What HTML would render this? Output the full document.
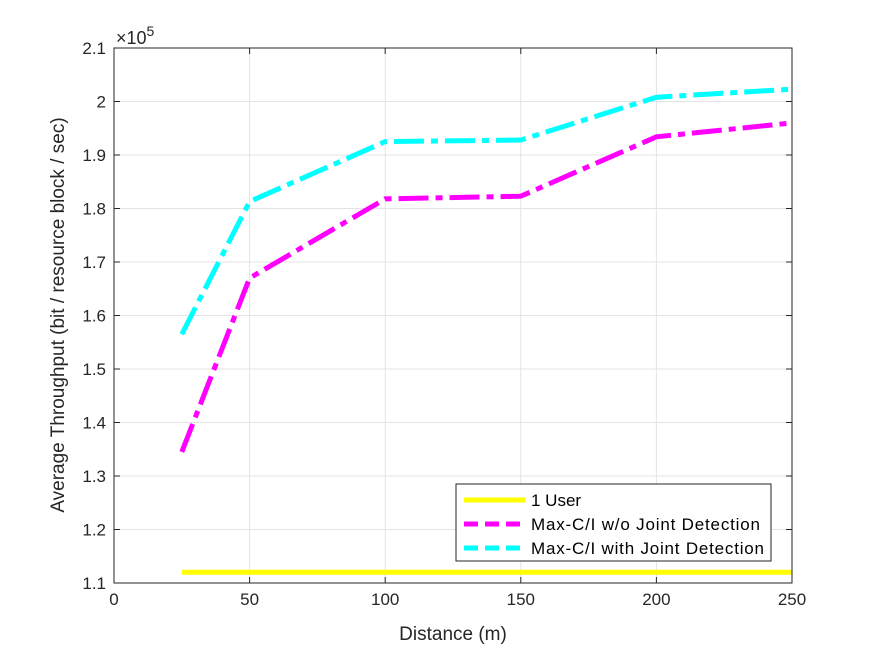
<!DOCTYPE html>
<html><head><meta charset="utf-8"><style>
body{margin:0;background:#fff;}
svg{display:block;font-family:"Liberation Sans",sans-serif;}
</style></head><body>
<svg id="chart" width="875" height="656">
<rect width="875" height="656" fill="#fff"/>
<g id="grid"></g>
<g id="series"></g>
<g id="axes"></g>
</svg>
<script>
const xTicks=[0,50,100,150,200,250];
const yTicks=[1.1,1.2,1.3,1.4,1.5,1.6,1.7,1.8,1.9,2,2.1];
const yTickLabels=["1.1","1.2","1.3","1.4","1.5","1.6","1.7","1.8","1.9","2","2.1"];
const distances=[25,50,100,150,200,250];
const oneUser=[1.12,1.12,1.12,1.12,1.12,1.12];
const maxCIwo=[1.345,1.67,1.818,1.823,1.934,1.96];
const maxCIwith=[1.565,1.813,1.925,1.928,2.008,2.023];
const L=114,R=792,T=48,B=583;
const sx=v=>L+(v-0)/250*(R-L);
const sy=v=>B-(v-1.1)/1.0*(B-T);
const NS="http://www.w3.org/2000/svg";
function mk(tag,attrs,parent){const e=document.createElementNS(NS,tag);for(const k in attrs)e.setAttribute(k,attrs[k]);parent.appendChild(e);return e;}
const grid=document.getElementById('grid'),ser=document.getElementById('series'),ax=document.getElementById('axes');
xTicks.forEach(v=>{const x=sx(v);
 const g=mk('line',{x1:x,x2:x,y1:T,y2:B,stroke:'#e3e3e3','stroke-width':1},grid);
 
 mk('line',{x1:x,x2:x,y1:B,y2:B-6,stroke:'#262626'},ax);mk('line',{x1:x,x2:x,y1:T,y2:T+6,stroke:'#262626'},ax);
 const t=mk('text',{x:x,y:B+22,'text-anchor':'middle','font-size':17,fill:'#262626'},ax);t.textContent=v;
 });
yTicks.forEach((v,i)=>{const y=sy(v);
 const g=mk('line',{x1:L,x2:R,y1:y,y2:y,stroke:'#e3e3e3','stroke-width':1},grid);
 
 mk('line',{x1:L,x2:L+6,y1:y,y2:y,stroke:'#262626'},ax);mk('line',{x1:R,x2:R-6,y1:y,y2:y,stroke:'#262626'},ax);
 const t=mk('text',{x:L-8,y:y+6,'text-anchor':'end','font-size':17,fill:'#262626'},ax);t.textContent=yTickLabels[i];
 });
const box=mk('rect',{x:L,y:T,width:R-L,height:B-T,fill:'none',stroke:'#262626','stroke-width':1},ax);

function line(vals,color,dash,name){const p=mk('polyline',{points:distances.map((d,i)=>sx(d)+','+sy(vals[i])).join(' '),fill:'none',stroke:color,'stroke-width':5,'stroke-dasharray':dash},ser);
 }
line(oneUser,'#ffff00','none','series-1-user');
line(maxCIwo,'#ff00ff','30,7,7,7','series-maxci-without-jd');
line(maxCIwith,'#00ffff','30,7,7,7','series-maxci-with-jd');
let t=mk('text',{x:116,y:44,'font-size':18,fill:'#262626'},ax);t.innerHTML='×10<tspan dy="-8" font-size="14">5</tspan>';

t=mk('text',{x:453,y:640,'text-anchor':'middle','font-size':19,fill:'#262626'},ax);t.textContent='Distance (m)';

t=mk('text',{x:0,y:0,'text-anchor':'middle','font-size':19,fill:'#262626',transform:'translate(64,315) rotate(-90)'},ax);t.textContent='Average Throughput (bit / resource block / sec)';

const lg=mk('g',{},ax);
mk('rect',{x:456,y:484,width:315,height:77,fill:'#fff',stroke:'#262626','stroke-width':1},lg);
[['1 User','#ffff00','none',500],['Max-C/I w/o Joint Detection','#ff00ff','14,7',524],['Max-C/I with Joint Detection','#00ffff','14,7',548]].forEach(e=>{
 const le=mk('line',{x1:464,x2:525,y1:e[3],y2:e[3],stroke:e[1],'stroke-width':5,'stroke-dasharray':e[2]},lg);
 
 const tt=mk('text',{x:531,y:e[3]+6,'font-size':17,textLength:0,fill:'#000'},lg);tt.removeAttribute('textLength');tt.textContent=e[0];
 
 if(e[0].length>10){tt.setAttribute('textLength',e[0].indexOf('with')>0?233:229);}});
</script>
</body></html>
